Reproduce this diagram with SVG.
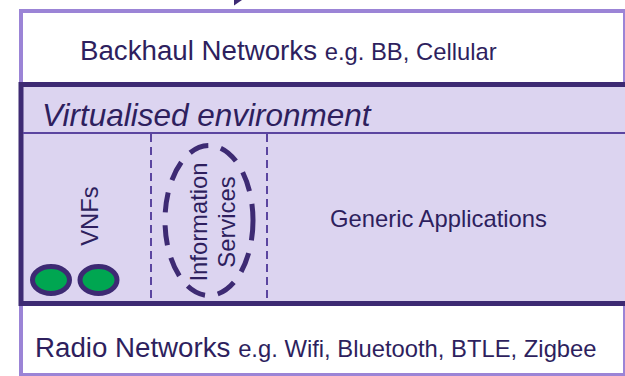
<svg xmlns="http://www.w3.org/2000/svg" width="625" height="376" viewBox="0 0 625 376">
  <style>
    .t { font-family: "Liberation Sans", Arial, sans-serif; fill: #2e1f5e; }
    .big { font-size: 27.7px; }
    .small { font-size: 23.8px; }
    .sep { stroke: #5b45a0; stroke-width: 2; fill: none; }
    .dash { stroke: #5b45a0; stroke-width: 2; stroke-dasharray: 8 5; fill: none; }
    .vnf { fill: #00a651; stroke: #3d2a73; stroke-width: 5; }
  </style>
  <rect width="625" height="376" fill="#ffffff"/>

  <g id="outer-networks">
    <rect x="21" y="11" width="604" height="364" fill="#ffffff" stroke="#9b84d6" stroke-width="4"/>
    <text class="t big" x="80" y="60">Backhaul Networks <tspan class="small">e.g. BB, Cellular</tspan></text>
    <text class="t big" x="35" y="357">Radio Networks <tspan class="small">e.g. Wifi, Bluetooth, BTLE, Zigbee</tspan></text>
  </g>

  <g id="virtualised-environment">
    <rect x="21" y="84.5" width="615" height="219" fill="#dcd4f0" stroke="#3d2a73" stroke-width="5"/>
    <line class="sep" x1="23" y1="133" x2="625" y2="133"/>
    <text class="t" x="42" y="126" font-size="31.5" font-style="italic">Virtualised environment</text>
  </g>

  <g id="vnfs">
    <line class="dash" x1="151" y1="134" x2="151" y2="301"/>
    <text class="t" font-size="23.8" text-anchor="middle" transform="translate(98,216) rotate(-90)">VNFs</text>
    <ellipse class="vnf" cx="51" cy="280" rx="18.5" ry="13.5"/>
    <ellipse class="vnf" cx="98.5" cy="280" rx="18.5" ry="13.5"/>
  </g>

  <g id="information-services">
    <line class="dash" x1="267" y1="134" x2="267" y2="301"/>
    <ellipse cx="209" cy="220.5" rx="44" ry="75" fill="none" stroke="#3d2a73" stroke-width="5" stroke-dasharray="20 13"/>
    <text class="t" font-size="23.8" text-anchor="middle" transform="translate(207,222) rotate(-90)">Information</text>
    <text class="t" font-size="23.8" text-anchor="middle" transform="translate(235,222) rotate(-90)">Services</text>
  </g>

  <g id="generic-applications">
    <text class="t" x="330" y="227" font-size="23.8">Generic Applications</text>
  </g>

  <g id="connectors">
    <polygon points="234,0 242,0 234,5.5" fill="#3d2a73"/>
  </g>
</svg>
